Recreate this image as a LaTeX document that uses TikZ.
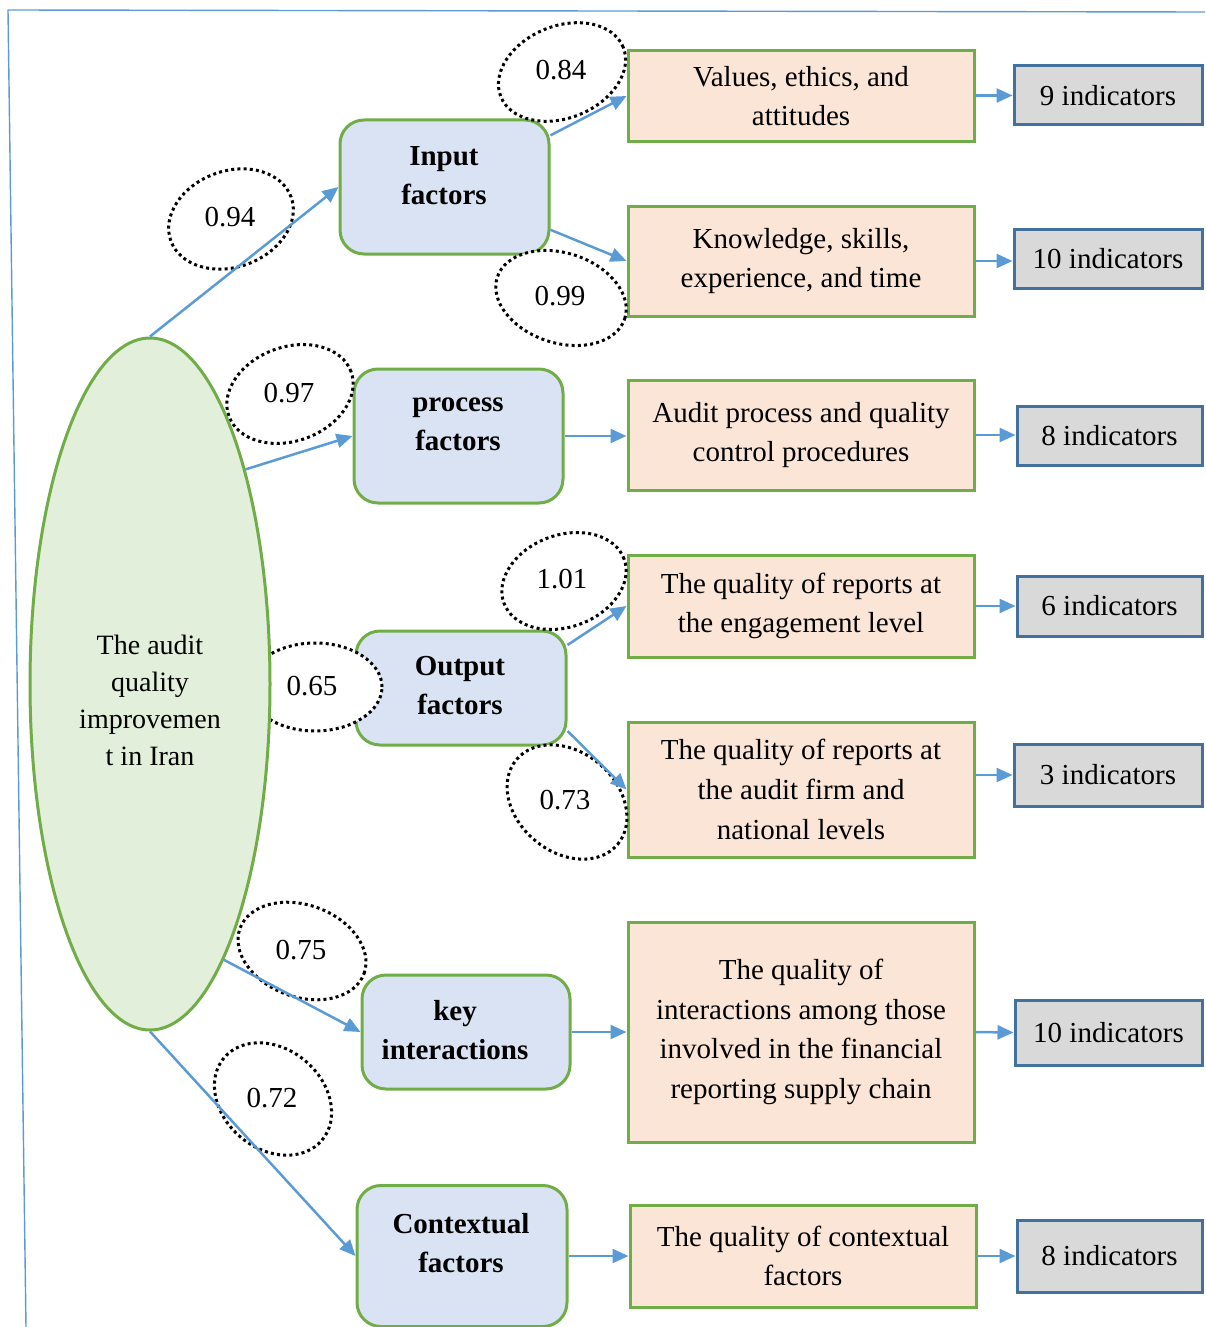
\documentclass[tikz,border=0pt]{standalone}
\usepackage{fontspec}
\setmainfont{Liberation Serif}
\usetikzlibrary{shapes.geometric,arrows.meta}
\definecolor{edgegreen}{HTML}{70AD47}
\definecolor{rootfill}{HTML}{E2EFDA}
\definecolor{facfill}{HTML}{DAE3F3}
\definecolor{dimfill}{HTML}{FBE5D6}
\definecolor{indfill}{HTML}{D9D9D9}
\definecolor{indedge}{HTML}{41719C}
\definecolor{arrowblue}{HTML}{5B9BD5}
\tikzset{
	fac/.style 2 args={draw=edgegreen,fill=facfill,line width=1.5pt,rounded corners=12pt,minimum width=#1,minimum height=#2,inner sep=0pt},
	factxt/.style={align=center,font=\fontsize{14.5}{19.5}\selectfont\bfseries,inner sep=0pt},
	dim/.style 2 args={draw=edgegreen,fill=dimfill,line width=1.5pt,minimum width=#1,minimum height=#2,align=center,inner sep=0pt,font=\fontsize{14.5}{19.8}\selectfont},
	ind/.style 2 args={draw=indedge,fill=indfill,line width=1.5pt,minimum width=#1,minimum height=#2,inner sep=0pt,font=\fontsize{14.5}{18}\selectfont},
	coef/.style={inner sep=0pt,font=\fontsize{14.5}{18}\selectfont},
	dots/.style={draw=black,fill=white,line width=1.5pt,dash pattern=on 1.5pt off 1.6pt},
	link/.style={draw=arrowblue,line width=1.25pt,-{Triangle[length=8pt,width=7pt]}},
	frame/.style={draw=arrowblue,line width=0.7pt}
}
\begin{document}
\begin{tikzpicture}[x=0.5pt,y=-0.5pt]
	\useasboundingbox (0,0) rectangle (1205,1327);
	\draw[frame] (1205,12) -- (8,10) -- (26,1327);
	
	% factor boxes
	\node[fac={104.5pt}{67pt}] (inp) at (444.5,187) {};
	\node[fac={104.5pt}{67pt}] (proc) at (458.5,436) {};
	\node[fac={105pt}{57pt}] (outp) at (461,688) {};
	\node[fac={104pt}{57pt}] (keyi) at (466,1032) {};
	\node[fac={105pt}{70.5pt}] (ctx) at (462,1256) {};
	
	% dimensions
	\node[dim={173pt}{45pt}] (val) at (801,96) {Values, ethics, and\\attitudes};
	\node[dim={173pt}{55pt}] (know) at (801,261) {Knowledge, skills,\\experience, and time};
	\node[dim={173pt}{55pt}] (aud) at (801,435) {Audit process and quality\\control procedures};
	\node[dim={173pt}{51pt}] (eng) at (801,606) {The quality of reports at\\the engagement level};
	\node[dim={173pt}{67.5pt}] (firm) at (801,789.5) {The quality of reports at\\the audit firm and\\national levels};
	\node[dim={173pt}{110pt}] (inter) at (801,1032) {The quality of\\interactions among those\\involved in the financial\\reporting supply chain};
	\node[dim={173pt}{51pt}] (qctx) at (803,1256) {The quality of contextual\\factors};
	
	% indicators
	\node[ind={94pt}{29.5pt}] (n9) at (1108,95.5) {9 indicators};
	\node[ind={94pt}{29.5pt}] (n10a) at (1108,258.5) {10 indicators};
	\node[ind={92.5pt}{29.5pt}] (n8a) at (1109.5,435.5) {8 indicators};
	\node[ind={92.5pt}{30pt}] (n6) at (1109.5,606) {6 indicators};
	\node[ind={94pt}{31pt}] (n3) at (1108,775) {3 indicators};
	\node[ind={93.5pt}{32.5pt}] (n10b) at (1108.5,1032.5) {10 indicators};
	\node[ind={92.5pt}{36pt}] (n8b) at (1109.5,1256) {8 indicators};
	
	% coefficient ellipses
	\draw[dots] (231,219) ellipse [x radius=32pt,y radius=24pt,rotate=20];
	\draw[dots] (562,72) ellipse [x radius=33pt,y radius=23pt,rotate=22];
	\draw[dots] (561,298) ellipse [x radius=33.5pt,y radius=22.5pt,rotate=-18];
	\draw[dots] (290,394) ellipse [x radius=32.5pt,y radius=23.5pt,rotate=20];
	\draw[dots] (564,581) ellipse [x radius=32pt,y radius=23pt,rotate=20];
	\draw[dots] (315,687) ellipse [x radius=33.5pt,y radius=22pt];
	\draw[dots] (567,802) ellipse [x radius=33pt,y radius=25pt,rotate=-40];
	\draw[dots] (302,951) ellipse [x radius=33pt,y radius=23pt,rotate=-20];
	\draw[dots] (273,1099) ellipse [x radius=32pt,y radius=25pt,rotate=-40];
	
	% root
	\node[ellipse,draw=edgegreen,fill=rootfill,line width=1.5pt,minimum width=120pt,minimum height=346pt,inner sep=0pt] (root) at (150,684) {};
	\node[align=center,inner sep=0pt,font=\fontsize{14}{18.5}\selectfont] (root-t) at (150,700) {The audit\\quality\\improvemen\\t in Iran};
	
	\node[factxt] (inp-t) at (444,176) {Input\\factors};
	\node[factxt] (proc-t) at (458,424) {process\\factors};
	\node[factxt] (outp-t) at (460,686) {Output\\factors};
	\node[factxt] (keyi-t) at (455,1030) {key\\interactions};
	\node[factxt] (ctx-t) at (461,1243) {Contextual\\factors};
	
	\node[coef] (c94) at (230,217) {0.94};
	\node[coef] (c84) at (561,70) {0.84};
	\node[coef] (c99) at (560,296) {0.99};
	\node[coef] (c97) at (289,393) {0.97};
	\node[coef] (c101) at (562,579) {1.01};
	\node[coef] (c65) at (312,686) {0.65};
	\node[coef] (c73) at (565,800) {0.73};
	\node[coef] (c75) at (301,950) {0.75};
	\node[coef] (c72) at (272,1098) {0.72};
	
	% arrows
	\draw[link] (root.north) -- (inp.west);
	\draw[link] (root.66) -- (proc.west);
	\draw[link] (root.-75.6) -- (keyi.west);
	\draw[link] (root.south) -- (ctx.west);
	\draw[link] (inp.26) -- (val.west);
	\draw[link] (inp.-22) -- (know.west);
	\draw[link] (proc.east) -- (proc.east -| aud.west);
	\draw[link] (outp.22) -- (eng.west);
	\draw[link] (outp.-22) -- (firm.west);
	\draw[link] (keyi.east) -- (inter.west);
	\draw[link] (ctx.east) -- (ctx.east -| qctx.west);
	\draw[link] (val.east |- n9.west) -- (n9.west);
	\draw[link] (know.east) -- (know.east -| n10a.west);
	\draw[link] (aud.east) -- (aud.east -| n8a.west);
	\draw[link] (eng.east) -- (n6.west);
	\draw[link] (firm.east |- n3.west) -- (n3.west);
	\draw[link] (inter.east) -- (n10b.west);
	\draw[link] (qctx.east) -- (n8b.west);
\end{tikzpicture}
\end{document}
